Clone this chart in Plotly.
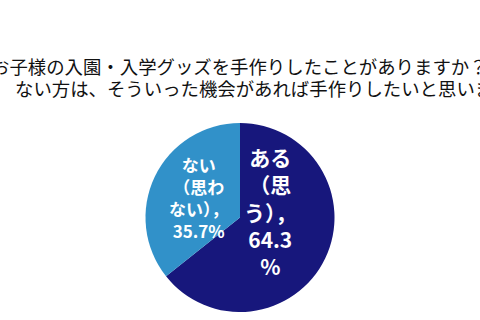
import plotly.graph_objects as go

# Data
labels = ["ある（思う）", "ない（思わない）"]
values = [64.3, 35.7]
colors = ["#17177c", "#3191c9"]
title_lines = [
    "お子様の入園・入学グッズを手作りしたことがありますか？",
    "ない方は、そういった機会があれば手作りしたいと思いますか？",
]
# wrapped label text as displayed inside slices
label_wrapped = [
    ["ある", "（思", "う），", f"{values[0]}", "%"],
    ["ない", "（思わ", "ない），", f"{values[1]}%"],
]

W, H = 480, 320
FONT = "Noto Sans CJK JP, Noto Sans, sans-serif"

fig = go.Figure()
fig.add_trace(go.Pie(
    labels=labels,
    values=values,
    sort=False,
    direction="clockwise",
    rotation=0,
    marker=dict(colors=colors, line=dict(width=0)),
    textinfo="none",
    hoverinfo="label+percent",
    showlegend=False,
    domain=dict(x=[145 / W, 335 / W], y=[(H - 312) / H, (H - 123) / H]),
))

annotations = []
# title lines (clipped by the image edges like the reference)
annotations.append(dict(text=title_lines[0], x=-11 / W, y=1 - 66 / H, xref="paper", yref="paper",
                        xanchor="left", yanchor="middle", showarrow=False,
                        font=dict(family=FONT, size=18.4, color="#111111")))
annotations.append(dict(text=title_lines[1], x=13 / W, y=1 - 88 / H, xref="paper", yref="paper",
                        xanchor="left", yanchor="middle", showarrow=False,
                        font=dict(family=FONT, size=18.4, color="#111111")))
# slice labels
annotations.append(dict(text="<b>" + "<br>".join(label_wrapped[0]) + "</b>",
                        x=270 / W, y=1 - 211 / H, xref="paper", yref="paper",
                        xanchor="center", yanchor="middle", showarrow=False, align="center",
                        font=dict(family=FONT, size=21, color="white")))
annotations.append(dict(text="<b>" + "<br>".join(label_wrapped[1]) + "</b>",
                        x=199 / W, y=1 - 197 / H, xref="paper", yref="paper",
                        xanchor="center", yanchor="middle", showarrow=False, align="center",
                        font=dict(family=FONT, size=17, color="white")))

fig.update_layout(
    width=W, height=H,
    margin=dict(l=0, r=0, t=0, b=0),
    paper_bgcolor="white",
    plot_bgcolor="white",
    annotations=annotations,
)

fig.write_html("out.html")
